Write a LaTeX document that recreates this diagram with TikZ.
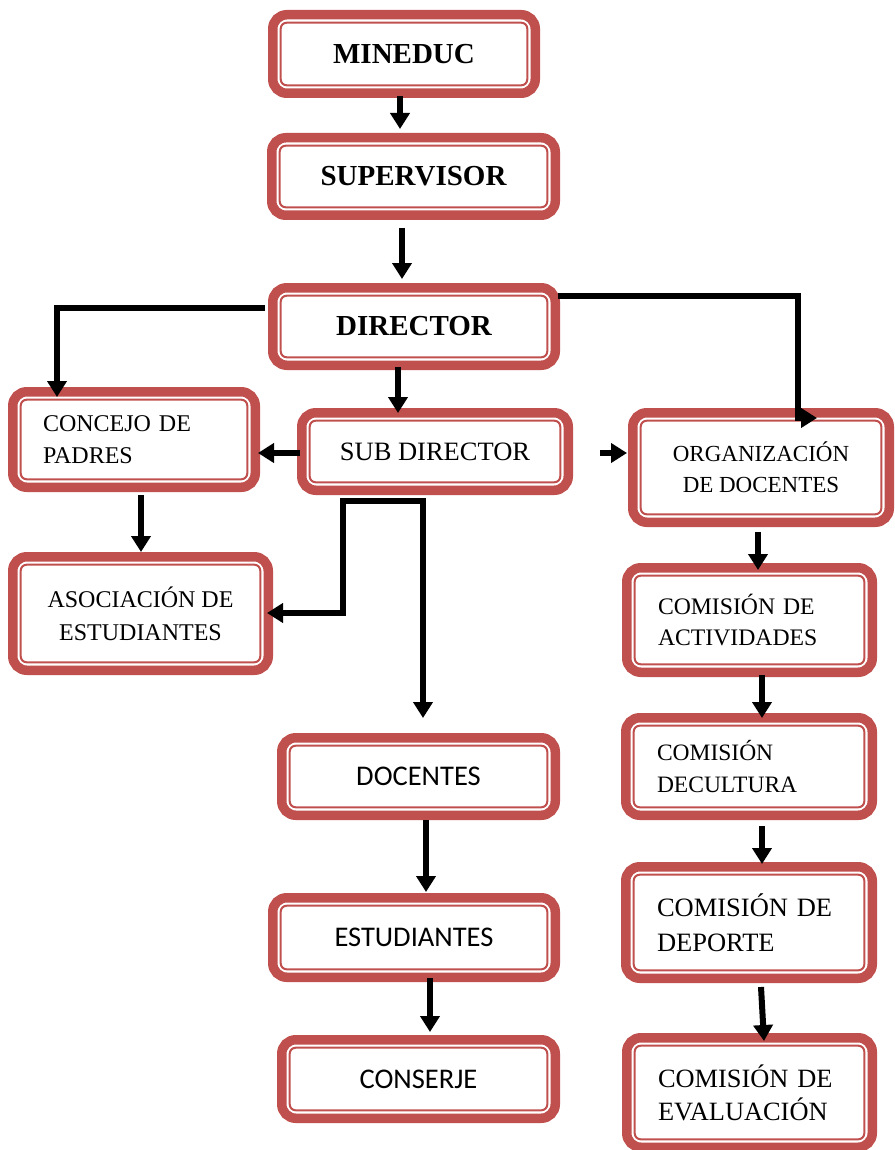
\documentclass[tikz,border=0pt]{standalone}
\usepackage{fontspec}
\setmainfont{Liberation Serif}
\newfontfamily\calib{Carlito}
\usetikzlibrary{arrows.meta,calc}
\definecolor{boxred}{HTML}{C0504D}
\begin{document}
\begin{tikzpicture}[x=1pt,y=-1pt,
  box/.style={inner sep=0pt, outer sep=0pt, align=center},
  lbox/.style={inner ysep=0pt, outer sep=0pt, align=left},
  arr/.style={line width=6pt, -{Triangle[width=19pt,length=16pt]}}]
\useasboundingbox (0,0) rectangle (894,1150);
% boxes
\node[box, minimum width=272pt, minimum height=88pt, font=\fontsize{29}{35}\selectfont\bfseries] (mineduc) at (404,54) {MINEDUC};
\node[box, minimum width=293pt, minimum height=87pt, font=\fontsize{29}{35}\selectfont\bfseries] (super) at (413.5,176.5) {SUPERVISOR};
\node[box, minimum width=292pt, minimum height=87pt, font=\fontsize{29}{35}\selectfont\bfseries] (dir) at (414,326.5) {DIRECTOR};
\node[lbox, inner xsep=35pt, text width=182pt, minimum width=252pt, minimum height=105pt, font=\fontsize{24}{32}\selectfont] (con) at (134,439.5) {CONCEJO DE\\PADRES};
\node[box, minimum width=276pt, minimum height=87pt, font=\fontsize{26.5}{32}\selectfont] (sub) at (435,451.5) {SUB DIRECTOR};
\node[box, minimum width=266pt, minimum height=119pt, font=\fontsize{23}{31}\selectfont] (org) at (761,467.5) {ORGANIZACIÓN\\DE DOCENTES};
\node[box, minimum width=265pt, minimum height=123pt, font=\fontsize{24}{33}\selectfont] (asoc) at (140.5,613.5) {ASOCIACIÓN DE\\ESTUDIANTES};
\node[lbox, inner xsep=36pt, text width=183pt, minimum width=255pt, minimum height=114pt, font=\fontsize{23.7}{31}\selectfont] (act) at (749.5,620) {COMISIÓN DE\\ACTIVIDADES};
\node[lbox, inner xsep=36pt, text width=184pt, minimum width=256pt, minimum height=107pt, font=\fontsize{23.5}{32}\selectfont] (cul) at (749,766.5) {COMISIÓN\\DECULTURA};
\node[lbox, inner xsep=36pt, text width=184pt, minimum width=256pt, minimum height=121pt, font=\fontsize{26.5}{35}\selectfont] (dep) at (749,922.5) {COMISIÓN DE\\DEPORTE};
\node[lbox, inner xsep=36pt, text width=183pt, minimum width=255pt, minimum height=119pt, font=\fontsize{26.4}{33}\selectfont] (eva) at (749.5,1092.5) {COMISIÓN DE\\EVALUACIÓN};
\node[box, minimum width=283pt, minimum height=87pt, font=\calib\fontsize{28.5}{34}\selectfont] (doc) at (418.5,776.5) {DOCENTES};
\node[box, minimum width=292pt, minimum height=89pt, font=\calib\fontsize{28.5}{34}\selectfont] (est) at (414,937.5) {ESTUDIANTES};
\node[box, minimum width=283pt, minimum height=88pt, font=\calib\fontsize{28.5}{34}\selectfont] (conserje) at (418.5,1079) {CONSERJE};
% frames
\foreach \n in {mineduc,super,dir,con,sub,org,asoc,act,cul,dep,eva,doc,est,conserje}{
  \draw[boxred, line width=9.5pt, rounded corners=14pt]
    ([shift={(4.75pt,-4.75pt)}]\n.north west) rectangle ([shift={(-4.75pt,4.75pt)}]\n.south east);
  \draw[boxred, line width=2pt, rounded corners=6pt]
    ([shift={(12.7pt,-12.7pt)}]\n.north west) rectangle ([shift={(-12.7pt,12.7pt)}]\n.south east);
}
% connectors
\draw[arr] ($(mineduc.south)+(-4,-2)$) -- ($(super.north)+(-13.5,-4)$);
\draw[arr] ($(super.south)+(-11.5,8)$) -- ($(dir.north)+(-12,-4)$);
\draw[arr] ($(dir.north west)+(-3,25)$) -| ($(con.north west)+(49,10)$);
\draw[arr] ($(dir.south)+(-16,-3)$) -- ($(sub.north)+(-37,5)$);
\draw[arr] ($(dir.north east)+(-2,13)$) -| ($(org.north west)+(170,10)$) -- ($(org.north west)+(189,10)$);
\draw[arr] ($(sub.west)+(3,1.5)$) -- ($(con.east)+(-2,13.5)$);
\coordinate (sdgap) at ($(sub.east)+(27,1.5)$);
\draw[arr] (sdgap) -- ($(org.west)+(-1,-14.5)$);
\draw[arr] ($(sub.south)+(-12,6)$) -| ($(asoc.east)+(70,-0.5)$) -- ($(asoc.east)+(-6,-0.5)$);
\draw[arr] ($(sub.south)+(-12,3)$) -- ($(doc.north)+(4.5,-15)$);
\draw[arr] ($(con.south)+(7,3)$) -- ($(asoc.north)+(0.5,0)$);
\draw[arr] ($(org.south)+(-3,5)$) -- ($(act.north)+(8.5,7)$);
\draw[arr] ($(act.south)+(12.5,-2)$) -- ($(cul.north)+(13,5)$);
\draw[arr] ($(cul.south)+(13,6)$) -- ($(dep.north)+(13,2)$);
\draw[arr] ($(dep.south)+(12,4)$) -- ($(eva.north)+(14.5,8)$);
\draw[arr] ($(doc.south)+(7.5,0)$) -- ($(est.north)+(12,-1)$);
\draw[arr] ($(est.south)+(16,-4)$) -- ($(conserje.north)+(11.5,-3)$);
\end{tikzpicture}
\end{document}
